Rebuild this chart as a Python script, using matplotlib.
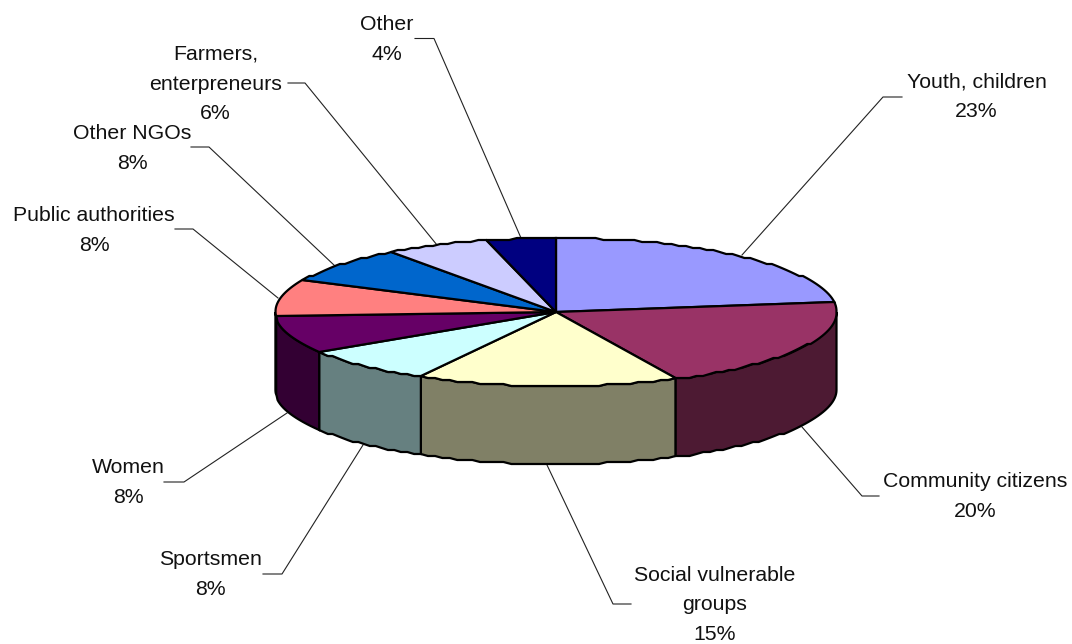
import matplotlib
matplotlib.use('Agg')
import matplotlib.pyplot as plt
from matplotlib.patches import Polygon
import numpy as np

categories = ['Youth, children', 'Community citizens', 'Social vulnerable\ngroups', 'Sportsmen',
              'Women', 'Public authorities', 'Other NGOs', 'Farmers,\nenterpreneurs', 'Other']
values = [23, 20, 15, 8, 8, 8, 8, 6, 4]

top_colors = ['#9999FF', '#993366', '#FFFFCC', '#CCFFFF', '#660066', '#FF8080', '#0066CC', '#CCCCFF', '#000080']
side_colors = ['#4D4D80', '#4D1A33', '#808066', '#668080', '#330033', '#804040', '#003366', '#666680', '#000040']

# label centre, then where the leader line starts, bends and ends (pixels)
label_xy = [(976.5, 97), (975.5, 496.5), (715, 605), (210.5, 574.5), (128.5, 482.5), (94, 230.5), (132, 148.5), (215.5, 84), (387, 39.5)]
leaders = [
    [(902, 97), (883, 97), (742, 255)],
    [(879, 496), (862, 496), (802, 427)],
    [(631, 604), (613, 604), (547, 465)],
    [(263, 574), (282, 574), (363, 445)],
    [(164, 482), (184, 482), (287, 413)],
    [(175, 229), (193, 229), (278, 298)],
    [(191, 147), (209, 147), (335, 266)],
    [(288, 83), (305, 83), (437, 245)],
    [(415, 38.5), (434, 38.5), (521, 238)],
]

cx, cy = 556, 312
rx, ry = 280.5, 74
depth = 78


def arc(a0, a1, drop=0):
    # angles are degrees clockwise from the top of the pie
    n = max(2, int((a1 - a0) / 1.6) + 1)
    t = np.radians(np.linspace(a0, a1, n))
    x = cx + rx * np.sin(t)
    y = cy - ry * np.cos(t)
    # the original outline is slightly stepped
    y = np.round(y / 2) * 2 + drop
    return np.column_stack([x, y])


fig = plt.figure(figsize=(10.72, 6.44), dpi=100)
ax = fig.add_axes([0, 0, 1, 1])
ax.set_xlim(0, 1072)
ax.set_ylim(644, 0)
ax.axis('off')

edges = np.cumsum([0] + values) / sum(values) * 360

# sides first, only the front half can be seen
for i in range(len(values)):
    a0 = max(edges[i], 90)
    a1 = min(edges[i + 1], 270)
    if a1 <= a0:
        continue
    pts = np.vstack([arc(a0, a1), arc(a0, a1, depth)[::-1]])
    ax.add_patch(Polygon(pts, closed=True, facecolor=side_colors[i], edgecolor='black', lw=1.6, zorder=2))

for i in range(len(values)):
    pts = np.vstack([[(cx, cy)], arc(edges[i], edges[i + 1])])
    ax.add_patch(Polygon(pts, closed=True, facecolor=top_colors[i], edgecolor='black', lw=1.6, zorder=3))

for path in leaders:
    xs, ys = zip(*path)
    ax.plot(xs, ys, color='#222222', lw=0.8, zorder=1)

for i, name in enumerate(categories):
    ax.text(label_xy[i][0], label_xy[i][1], '%s\n%d%%' % (name, values[i]), ha='center', va='center',
            family='Liberation Sans', fontsize=15.3, linespacing=1.72, color='#111111')

fig.savefig('out.png', dpi=100)
